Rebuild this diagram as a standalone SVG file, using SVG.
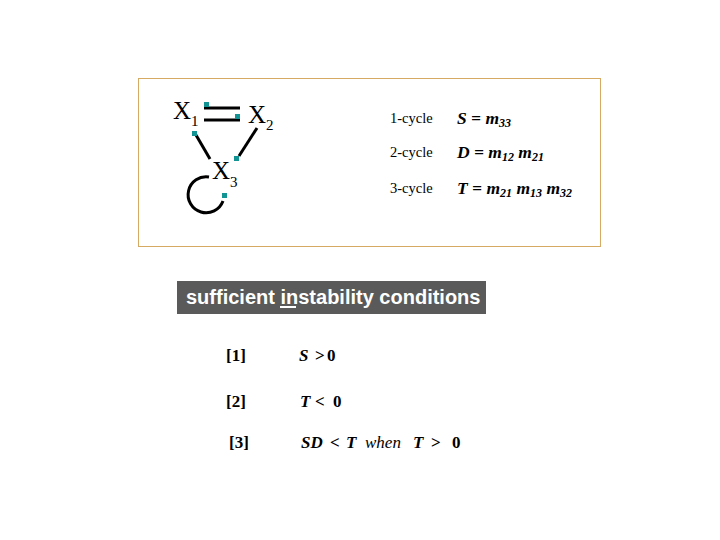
<svg xmlns="http://www.w3.org/2000/svg" width="720" height="540" viewBox="0 0 720 540">
<style>
.node{font-family:"Liberation Serif","Times New Roman",serif;font-size:25px;fill:#000}
.nsub{font-size:15px}
.edge{stroke:#000;stroke-width:3;fill:none;stroke-linecap:butt}
.dot{fill:#139494}
.lbl{font-family:"Liberation Serif","Times New Roman",serif;font-size:14.5px;fill:#000}
.eq{font-family:"Liberation Serif","Times New Roman",serif;font-size:17.5px;font-weight:bold;font-style:italic;fill:#000}
.sub{font-size:12px}
.cond{font-family:"Liberation Serif","Times New Roman",serif;font-size:17px;font-weight:bold;fill:#000}
.bi{font-style:italic}
.it{font-style:italic;font-weight:normal}
.banner{font-family:"Liberation Sans",Arial,sans-serif;font-size:20px;font-weight:bold;fill:#fff}
</style>
<rect x="138.5" y="78.5" width="462" height="168" fill="#fff" stroke="#d6aa62" stroke-width="1"/>
<g id="connectors">
<line class="edge" x1="204" y1="108" x2="240" y2="108"/>
<rect class="dot" x="204" y="102" width="5" height="5"/>
<line class="edge" x1="204" y1="120" x2="240" y2="120"/>
<rect class="dot" x="235" y="114" width="5" height="5"/>
<line class="edge" x1="196" y1="135" x2="210" y2="159"/>
<rect class="dot" x="192" y="131" width="5" height="5"/>
<line class="edge" x1="257" y1="128" x2="239" y2="156"/>
<rect class="dot" x="234" y="156" width="5" height="5"/>
<path class="edge" d="M 209 177 A 18 18 0 1 0 223 201"/>
<rect class="dot" x="222" y="193" width="5" height="5"/>
</g>
<g id="X1"><text class="node" x="173" y="119">X<tspan class="nsub" dy="7">1</tspan></text></g>
<g id="X2"><text class="node" x="248" y="123">X<tspan class="nsub" dy="7">2</tspan></text></g>
<g id="X3"><text class="node" x="212" y="179">X<tspan class="nsub" dy="8">3</tspan></text></g>
<g id="cycles">
<text class="lbl" x="390" y="123">1-cycle</text>
<text class="lbl" x="390" y="157">2-cycle</text>
<text class="lbl" x="390" y="193">3-cycle</text>
<text class="eq" x="457" y="124">S = m<tspan class="sub" dy="3">33</tspan></text>
<text class="eq" x="457" y="158">D = m<tspan class="sub" dy="3">12</tspan><tspan dy="-3"> m</tspan><tspan class="sub" dy="3">21</tspan></text>
<text class="eq" x="457" y="194">T = m<tspan class="sub" dy="3">21</tspan><tspan dy="-3"> m</tspan><tspan class="sub" dy="3">13</tspan><tspan dy="-3"> m</tspan><tspan class="sub" dy="3">32</tspan></text>
</g>
<g id="banner">
<rect x="177" y="281" width="309" height="33" fill="#5a5a5a"/>
<text class="banner" x="186" y="304">sufficient instability conditions</text>
<rect x="280" y="306" width="16" height="2" fill="#fff"/>
</g>
<g id="conditions">
<text class="cond" x="226" y="361">[1]</text>
<text class="cond" y="361"><tspan class="bi" x="299">S</tspan><tspan x="315">&gt;</tspan><tspan x="327">0</tspan></text>
<text class="cond" x="226" y="407">[2]</text>
<text class="cond" y="407"><tspan class="bi" x="300">T</tspan><tspan x="315">&lt;</tspan><tspan x="333">0</tspan></text>
<text class="cond" x="229" y="448">[3]</text>
<text class="cond" y="448"><tspan class="bi" x="301">SD</tspan><tspan x="330">&lt;</tspan><tspan class="bi" x="346">T</tspan><tspan class="it" x="365">when</tspan><tspan class="bi" x="413">T</tspan><tspan x="431">&gt;</tspan><tspan x="452">0</tspan></text>
</g>
</svg>
